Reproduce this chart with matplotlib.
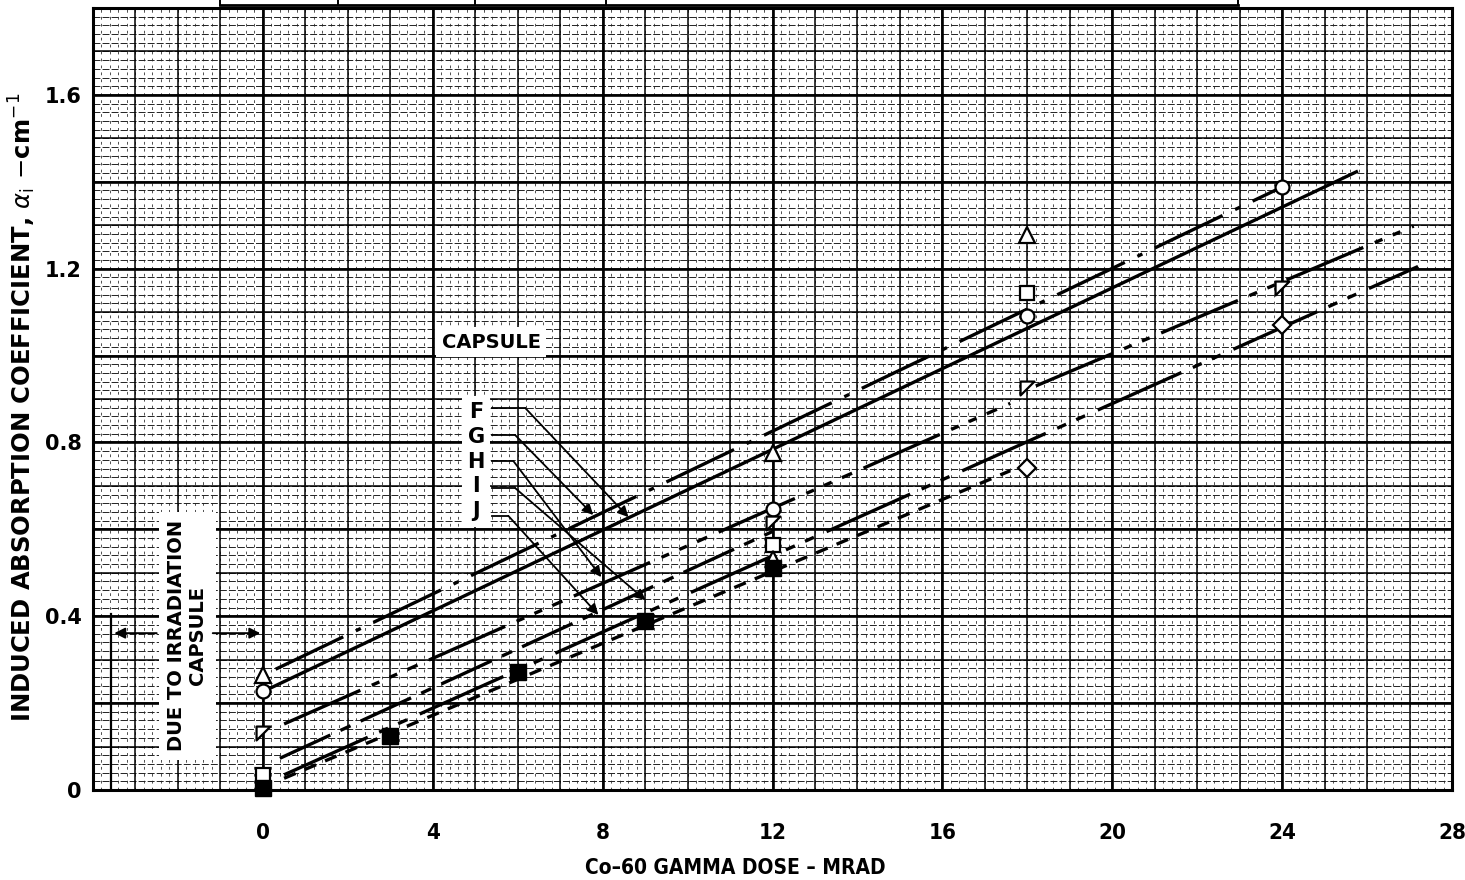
import numpy as np
import matplotlib.pyplot as plt
from matplotlib.path import Path

plt.rcParams['lines.scale_dashes'] = False

# measured induced absorption, dose in Mrad, alpha_i in cm^-1
tri_dose = [0, 12, 18]
tri_alpha = [0.265, 0.776, 1.278]
circ_dose = [0, 12, 18, 24]
circ_alpha = [0.228, 0.647, 1.091, 1.388]
flag_dose = [0, 12, 18, 24]
flag_alpha = [0.131, 0.614, 0.925, 1.156]
sq_dose = [0, 12, 18]
sq_alpha = [0.035, 0.564, 1.144]
smalltri_dose = [12]
smalltri_alpha = [0.536]
fsq_dose = [0, 3, 6, 9, 12]
fsq_alpha = [0.005, 0.125, 0.272, 0.389, 0.511]
dia_dose = [18, 24]
dia_alpha = [0.741, 1.070]

# straight-line fits drawn through the capsule data
fit_x0 = [0.1, 0.3, 0.5, 18.2, 0.4, 0.5, 0.5]
fit_x1 = [25.75, 24.0, 17.6, 27.1, 12.0, 27.2, 17.6]
fit_y0 = [0.231, 0.278, 0.152, 0.930, 0.073, 0.035, 0.027]
fit_y1 = [1.423, 1.388, 0.890, 1.298, 0.595, 1.205, 0.735]
fit_dash = [None,
            (0, (54, 10, 4, 10)),
            (0, (60, 9, 6, 8, 6, 8, 8, 9)),
            (0, (60, 9, 6, 8, 6, 9)),
            (0, (40, 8, 8, 8)),
            (0, (66, 9, 7, 8, 7, 10)),
            (0, (9, 7))]

# capsule labels and where their pointers land
cap_names = ['F', 'G', 'H', 'I', 'J']
cap_label_y = [0.879, 0.817, 0.757, 0.695, 0.631]
cap_tail_x = [6.18, 5.94, 5.90, 5.94, 5.78]
cap_head_x = [8.61, 7.78, 7.97, 9.01, 7.90]
cap_head_y = [0.628, 0.633, 0.490, 0.437, 0.403]

xticks = [0, 4, 8, 12, 16, 20, 24, 28]
yticks = [0, 0.4, 0.8, 1.2, 1.6]

narrow = ['Liberation Sans Narrow', 'DejaVu Sans Condensed', 'DejaVu Sans']

fig = plt.figure(figsize=(14.65, 8.8), dpi=100)
ax = fig.add_axes([93 / 1465, 1 - 790 / 880, (1452 - 93) / 1465, (790 - 8) / 880])
ax.set_xlim(-4, 28)
ax.set_ylim(0, 1.8)

# graph paper: fine broken rulings, unit lines, heavy lines
ax.vlines(np.arange(-4, 28.01, 0.2), 0, 1.8, colors='#333333', lw=0.6,
          linestyles=(0, (2, 3)), zorder=1)
ax.hlines(np.arange(0, 1.801, 0.02), -4, 28, colors='#222222', lw=0.7,
          linestyles=(0, (5, 1.5)), zorder=1)
ax.vlines(np.arange(-4, 28.01, 1), 0, 1.8, colors='k', lw=1.1, zorder=1)
ax.hlines(np.arange(0, 1.801, 0.1), -4, 28, colors='k', lw=1.1, zorder=1)
ax.vlines(np.arange(-4, 28.01, 4), 0, 1.8, colors='k', lw=1.9, zorder=1)
ax.hlines(np.arange(0, 1.801, 0.2), -4, 28, colors='k', lw=1.9, zorder=1)

for x0, x1, y0, y1, ds in zip(fit_x0, fit_x1, fit_y0, fit_y1, fit_dash):
    if ds is None:
        ax.plot([x0, x1], [y0, y1], color='k', lw=2.4, zorder=3)
    else:
        ax.plot([x0, x1], [y0, y1], color='k', lw=2.4, ls=ds, zorder=3)

flag = Path([(-1, 1), (1, 1), (-1, -1), (-1, 1)],
            [Path.MOVETO, Path.LINETO, Path.LINETO, Path.CLOSEPOLY])
mk = dict(ls='none', mec='k', mfc='white', mew=1.6, zorder=5, clip_on=False)
ax.plot(tri_dose, tri_alpha, marker='^', ms=11, **mk)
ax.plot(circ_dose, circ_alpha, marker='o', ms=10, **mk)
ax.plot(flag_dose, flag_alpha, marker=flag, ms=10, **mk)
ax.plot(sq_dose, sq_alpha, marker='s', ms=10, **mk)
ax.plot(smalltri_dose, smalltri_alpha, marker='^', ms=8, **mk)
ax.plot(dia_dose, dia_alpha, marker='D', ms=9, **mk)
ax.plot(fsq_dose, fsq_alpha, ls='none', marker='s', ms=11, mfc='k', mec='k',
        zorder=5, clip_on=False)

# capsule key with pointers
ax.text(5.02, np.mean(cap_label_y), '\n'.join(cap_names), ha='center', va='center',
        fontsize=15, fontweight='bold', linespacing=1.3, zorder=6,
        bbox=dict(fc='white', ec='none', pad=4))
for ly, tx, hx, hy in zip(cap_label_y, cap_tail_x, cap_head_x, cap_head_y):
    ax.plot([5.4, tx], [ly, ly], color='k', lw=1.3, zorder=6)
    ax.annotate('', xy=(hx, hy), xytext=(tx, ly), zorder=6,
                arrowprops=dict(arrowstyle='-|>', color='k', lw=1.3,
                                mutation_scale=16, shrinkA=0, shrinkB=0))
ax.text(5.38, 1.031, 'CAPSULE', ha='center', va='center', fontsize=14,
        fontweight='bold', zorder=6,
        bbox=dict(fc='white', ec='none', pad=4))

# offset at zero dose caused by the capsule itself
ax.text(-1.78, 0.355, 'DUE TO IRRADIATION\nCAPSULE', rotation=90, ha='center',
        va='center', fontsize=14, fontweight='bold', linespacing=1.15, zorder=6,
        bbox=dict(fc='white', ec='none', pad=6))
ax.plot([-3.58, -3.58], [0, 0.405], color='k', lw=1.6, zorder=6)
ax.annotate('', xy=(-3.5, 0.361), xytext=(-2.5, 0.361), zorder=6,
            arrowprops=dict(arrowstyle='-|>', color='k', lw=1.4,
                            mutation_scale=16, shrinkA=0, shrinkB=0))
ax.annotate('', xy=(-0.06, 0.361), xytext=(-1.18, 0.361), zorder=6,
            arrowprops=dict(arrowstyle='-|>', color='k', lw=1.4,
                            mutation_scale=16, shrinkA=0, shrinkB=0))

for s in ax.spines.values():
    s.set_linewidth(2.2)
ax.set_xticks(xticks)
ax.set_yticks(yticks)
ax.set_xticklabels([str(t) for t in xticks], family=narrow, stretch='condensed',
                   fontweight='bold', fontsize=16)
ax.set_yticklabels(['0', '0.4', '0.8', '1.2', '1.6'], fontweight='bold', fontsize=15)
ax.tick_params(axis='x', length=0, pad=24)
ax.tick_params(axis='y', length=0, pad=8)

fig.text(0.502, 0.014, 'Co\u201360 GAMMA DOSE \u2013 MRAD', ha='center', va='center',
         family=narrow, stretch='condensed', fontweight='bold', fontsize=15)
fig.text(0.015, 0.537, r'INDUCED ABSORPTION COEFFICIENT, $\alpha_{\rm i}$ $-$cm$^{-1}$',
         rotation=90, ha='center', va='center', fontweight='bold', fontsize=17.5)

# bottom rule of the header table
fig.add_artist(plt.Line2D([220 / 1465, 1238 / 1465], [1 - 5 / 880, 1 - 5 / 880],
                          color='k', lw=2))
for px in [220, 338, 475, 606, 1238]:
    fig.add_artist(plt.Line2D([px / 1465, px / 1465], [1 - 5 / 880, 1.0],
                              color='k', lw=1.4))

fig.savefig('out.png', dpi=100)
